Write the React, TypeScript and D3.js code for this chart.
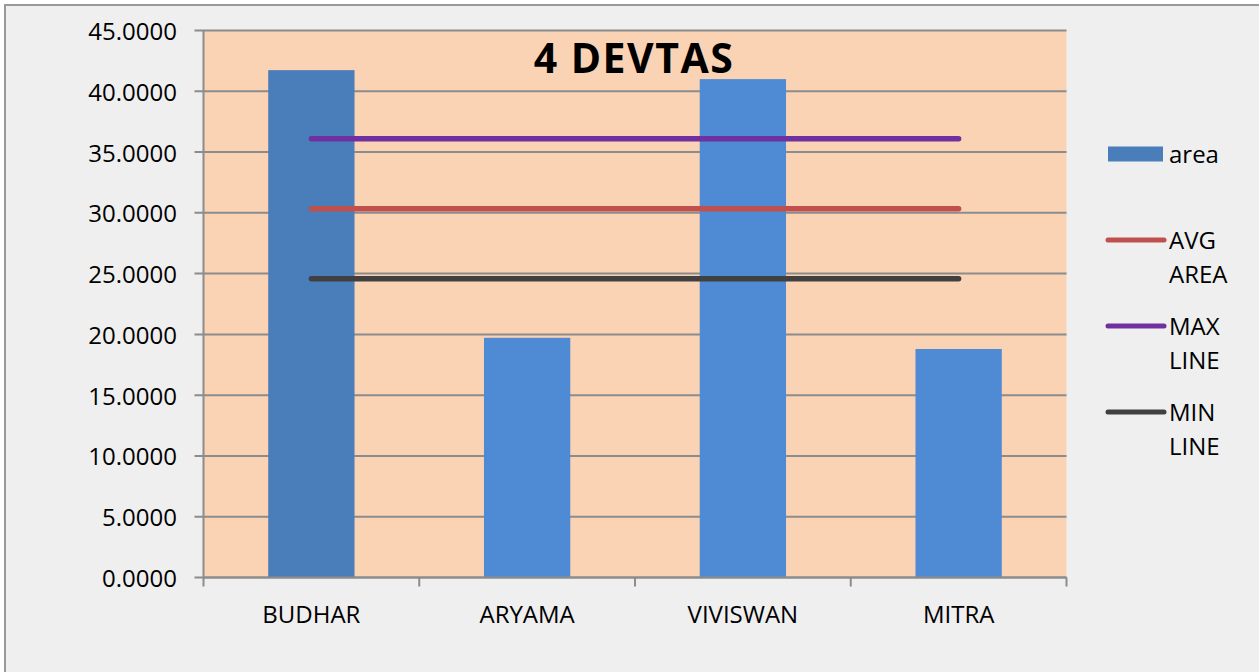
import React from "react";
import * as d3 from "d3";

const categories = ["BUDHAR", "ARYAMA", "VIVISWAN", "MITRA"];
const areaValues = [41.74, 19.72, 41.0, 18.8];
const avgArea = [30.33, 30.33, 30.33, 30.33];
const maxLine = [36.09, 36.09, 36.09, 36.09];
const minLine = [24.57, 24.57, 24.57, 24.57];
const yTicks = [0, 5, 10, 15, 20, 25, 30, 35, 40, 45];
const title = "4 DEVTAS";
const legendItems = [
  { key: "area", lines: ["area"], type: "bar", color: "#4A7EBB" },
  { key: "avg", lines: ["AVG", "AREA"], type: "line", color: "#C0504D" },
  { key: "max", lines: ["MAX", "LINE"], type: "line", color: "#7030A0" },
  { key: "min", lines: ["MIN", "LINE"], type: "line", color: "#404040" },
];

const W = 1259;
const H = 672;
const plot = { left: 203.5, right: 1066.5, top: 30.5, bottom: 577.5 };
const FONT = "'Open Sans', 'Liberation Sans', sans-serif";

export default function App() {
  const x = d3
    .scaleBand<string>()
    .domain(categories)
    .range([plot.left, plot.right])
    .paddingInner(0.6)
    .paddingOuter(0.3);
  const band = d3.scaleBand<string>().domain(categories).range([plot.left, plot.right]);
  const y = d3.scaleLinear().domain([0, 45]).range([plot.bottom, plot.top]);

  const lineGen = d3
    .line<number>()
    .x((_, i) => (x(categories[i]) as number) + x.bandwidth() / 2)
    .y((d) => y(d));

  const seriesLines = [
    { data: maxLine, color: "#7030A0" },
    { data: avgArea, color: "#C0504D" },
    { data: minLine, color: "#404040" },
  ];

  const barColors = ["#4A7EBB", "#4F8BD4", "#4F8BD4", "#4F8BD4"];

  const legendX = 1106;
  const legendRows = [154, 240, 326, 412];

  return (
    <svg
      width={W}
      height={H}
      style={{ position: "absolute", left: 0, top: 0 }}
      fontFamily={FONT}
    >
      <rect x={0} y={0} width={W} height={H} fill="#FFFFFF" />
      <rect x={5} y={5} width={W + 10} height={H + 10} fill="#EFEFEF" stroke="#999999" strokeWidth={2} />
      <rect
        x={plot.left}
        y={plot.top}
        width={plot.right - plot.left}
        height={plot.bottom - plot.top}
        fill="#FAD3B4"
      />
      {/* gridlines */}
      {yTicks.map((t) => (
        <line
          key={"g" + t}
          x1={plot.left - 9}
          x2={plot.right}
          y1={y(t)}
          y2={y(t)}
          stroke="#8C8C8C"
          strokeWidth={2}
        />
      ))}
      {/* y axis */}
      <line x1={plot.left} x2={plot.left} y1={plot.top} y2={plot.bottom} stroke="#8C8C8C" strokeWidth={2} />
      {yTicks.map((t) => (
        <text
          key={"t" + t}
          x={177}
          y={y(t)}
          textAnchor="end"
          dominantBaseline="central"
          fontSize={24}
          fill="#000"
        >
          {t.toFixed(4)}
        </text>
      ))}
      {/* bars */}
      {categories.map((c, i) => (
        <rect
          key={c}
          x={x(c)}
          y={y(areaValues[i])}
          width={x.bandwidth()}
          height={y(0) - y(areaValues[i])}
          fill={barColors[i]}
        />
      ))}
      {/* x axis ticks */}
      {[...categories.map((c) => band(c) as number), plot.right].map((v, i) => (
        <line key={"xt" + i} x1={v} x2={v} y1={plot.bottom} y2={plot.bottom + 9} stroke="#8C8C8C" strokeWidth={2} />
      ))}
      <line x1={plot.left} x2={plot.right} y1={plot.bottom} y2={plot.bottom} stroke="#8C8C8C" strokeWidth={2} />
      {categories.map((c) => (
        <text
          key={"xl" + c}
          x={(x(c) as number) + x.bandwidth() / 2}
          y={622.5}
          textAnchor="middle"
          fontSize={24}
          fill="#000"
        >
          {c}
        </text>
      ))}
      {/* lines */}
      {seriesLines.map((s, i) => (
        <path
          key={"l" + i}
          d={lineGen(s.data) as string}
          fill="none"
          stroke={s.color}
          strokeWidth={5.5}
          strokeLinecap="round"
        />
      ))}
      {/* title */}
      <text x={634} y={73} textAnchor="middle" fontSize={41} fontWeight="bold" letterSpacing={1.5} fill="#000">
        {title}
      </text>
      {/* legend */}
      {legendItems.map((it, i) => (
        <g key={it.key}>
          {it.type === "bar" ? (
            <rect x={1108} y={legendRows[i] - 7.5} width={55} height={15} fill={it.color} />
          ) : (
            <line
              x1={legendX + 2}
              x2={legendX + 58}
              y1={legendRows[i]}
              y2={legendRows[i]}
              stroke={it.color}
              strokeWidth={5}
              strokeLinecap="round"
            />
          )}
          {it.lines.map((ln, j) => (
            <text key={j} x={1169} y={legendRows[i] + 8.5 + j * 34} fontSize={24} fill="#000">
              {ln}
            </text>
          ))}
        </g>
      ))}
    </svg>
  );
}
